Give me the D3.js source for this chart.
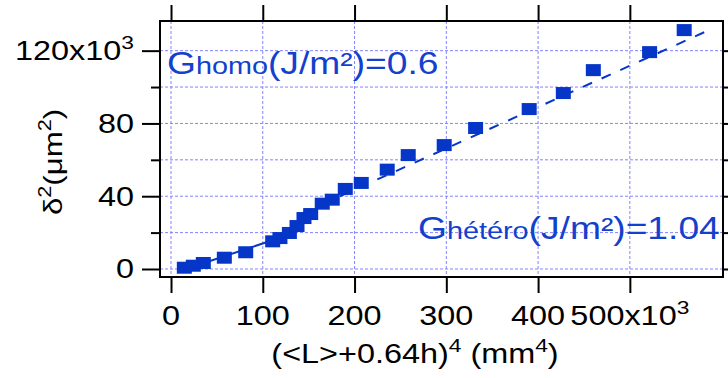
<!DOCTYPE html>
<html>
<head>
<meta charset="utf-8">
<script src="https://cdn.jsdelivr.net/npm/d3@7"></script>
<style>
  body { margin: 0; background: #fff; }
  svg { display: block; }
  text { font-family: "Liberation Sans", Arial, sans-serif; fill: #000; }
</style>
</head>
<body>
<div id="chart"></div>
<script>
// values (x in 10^3 mm^4, y in 10^3 um^2)
var xVals = [14.5, 24.3, 35.2, 58.1, 81.4, 110.8, 118.7, 129, 137.3, 144.9, 152.2, 164.8,
             175.7, 189.9, 207.3, 235.6, 258.5, 297.7, 331.9, 390.3, 427.5, 460.2, 521.5, 559.2];
var yVals = [0.7, 1.8, 3.3, 6.2, 9.2, 15.2, 17, 19.8, 23.6, 28.0, 30.2, 35.9,
             38.1, 44.0, 47.3, 54.6, 62.6, 68.1, 77.5, 87.9, 96.7, 109.3, 119.2, 131.3];

// fitted lines, end points
var homoFitX = [12, 125];
var homoFitY = [-0.7, 18.2];
var heteroFitX = [581, 138];
var heteroFitY = [130.1, 29.5];

var xTicks = [0, 100, 200, 300, 400, 500];
var xTickLabels = ["0", "100", "200", "300", "400", "500"];
var yTicks = [0, 40, 80, 120];
var yTickLabels = ["0", "40", "80", "120"];
var yMinor = [20, 60, 100];
var yGrid = [0, 20, 40, 60, 80, 100, 120];

var blue = "#0636c8";
var textBlue = "#1340cc";
var SX = 1.2; // text in the reference is stretched horizontally

var W = 728, H = 378;
var svg = d3.select("#chart").append("svg")
    .attr("width", W)
    .attr("height", H);

var x = d3.scaleLinear().domain([-12, 601.5]).range([160, 723]);
var y = d3.scaleLinear().domain([-4.4, 136.3]).range([277, 21]);

// grid
var grid = svg.append("g").attr("stroke", "#8484ff").attr("stroke-width", 1)
    .attr("stroke-dasharray", "3,2");
grid.selectAll(".gx").data(xTicks).enter().append("line")
    .attr("x1", function(d) { return x(d); }).attr("x2", function(d) { return x(d); })
    .attr("y1", y.range()[1]).attr("y2", y.range()[0]);
grid.selectAll(".gy").data(yGrid).enter().append("line")
    .attr("y1", function(d) { return y(d); }).attr("y2", function(d) { return y(d); })
    .attr("x1", x.range()[0]).attr("x2", x.range()[1]);

// fits
var line = d3.line().x(function(d) { return x(d[0]); }).y(function(d) { return y(d[1]); });
svg.append("path")
    .datum(d3.zip(homoFitX, homoFitY))
    .attr("d", line)
    .attr("fill", "none").attr("stroke", blue).attr("stroke-width", 2);
svg.append("path")
    .datum(d3.zip(heteroFitX, heteroFitY))
    .attr("d", line)
    .attr("fill", "none").attr("stroke", blue).attr("stroke-width", 2)
    .attr("stroke-dasharray", "10,10.5");

// markers
svg.selectAll(".pt").data(d3.zip(xVals, yVals)).enter().append("rect")
    .attr("class", "pt")
    .attr("x", function(d) { return x(d[0]) - 7.5; })
    .attr("y", function(d) { return y(d[1]) - 6; })
    .attr("width", 15).attr("height", 12)
    .attr("fill", blue);

// frame + ticks
svg.append("rect")
    .attr("x", 160).attr("y", 21).attr("width", 563).attr("height", 256)
    .attr("fill", "none").attr("stroke", "#000").attr("stroke-width", 2);

function ticks(axis, tx, ty) {
    var g = svg.append("g").attr("transform", "translate(" + tx + "," + ty + ")")
        .call(axis.tickFormat(""));
    g.select(".domain").remove();
    g.selectAll("line").attr("stroke", "#000").attr("stroke-width", 2);
}
ticks(d3.axisLeft(y).tickValues(yTicks).tickSize(18), 160, 0);
ticks(d3.axisLeft(y).tickValues(yMinor).tickSize(9), 160, 0);
ticks(d3.axisRight(y).tickValues(yTicks).tickSize(18), 723, 0);
ticks(d3.axisRight(y).tickValues(yMinor).tickSize(9), 723, 0);
ticks(d3.axisBottom(x).tickValues(xTicks).tickSize(16), 0, 277);
ticks(d3.axisTop(x).tickValues(xTicks).tickSize(16), 0, 21);

// stretched text made of parts [text, size, dy]
function label(px, py, anchor, parts, color, rotate) {
    var t = svg.append("text")
        .attr("transform", "translate(" + px + "," + py + ")" + (rotate ? " rotate(-90)" : "") + " scale(" + SX + ",1)")
        .attr("text-anchor", anchor)
        .style("fill", color || "#000");
    parts.forEach(function(p) {
        t.append("tspan").attr("font-size", p[1]).attr("dy", p[2] || 0).text(p[0]);
    });
    return t;
}

xTicks.forEach(function(v, i) {
    var parts = [[xTickLabels[i], 27]];
    if (i == xTicks.length - 1) parts = parts.concat([["x10", 27], ["3", 19, -11]]);
    label(x(v), 325, "middle", parts);
});
yTicks.forEach(function(v, i) {
    var parts = [[yTickLabels[i], 27]];
    if (i == yTicks.length - 1) parts = parts.concat([["x10", 27], ["3", 19, -11]]);
    label(134, y(v) + 9.5, "end", parts);
});

// axis titles
label(415, 363, "middle", [["(<L>+0.64h)", 27], ["4", 19, -11], [" (mm", 27, 11], ["4", 19, -11], [")", 27, 11]]);
label(62, 162, "middle", [["\u03b4", 26], ["2", 18, -11], ["(\u03bcm", 26, 11], ["2", 18, -11], [")", 26, 11]], "#000", true);

// annotations
label(167, 74, "start", [["G", 31], ["homo", 24], ["(J/m\u00b2)=0.6", 31]], textBlue);
label(418, 239, "start", [["G", 31], ["h\u00e9t\u00e9ro", 24], ["(J/m\u00b2)=1.04", 31]], textBlue);
</script>
</body>
</html>
